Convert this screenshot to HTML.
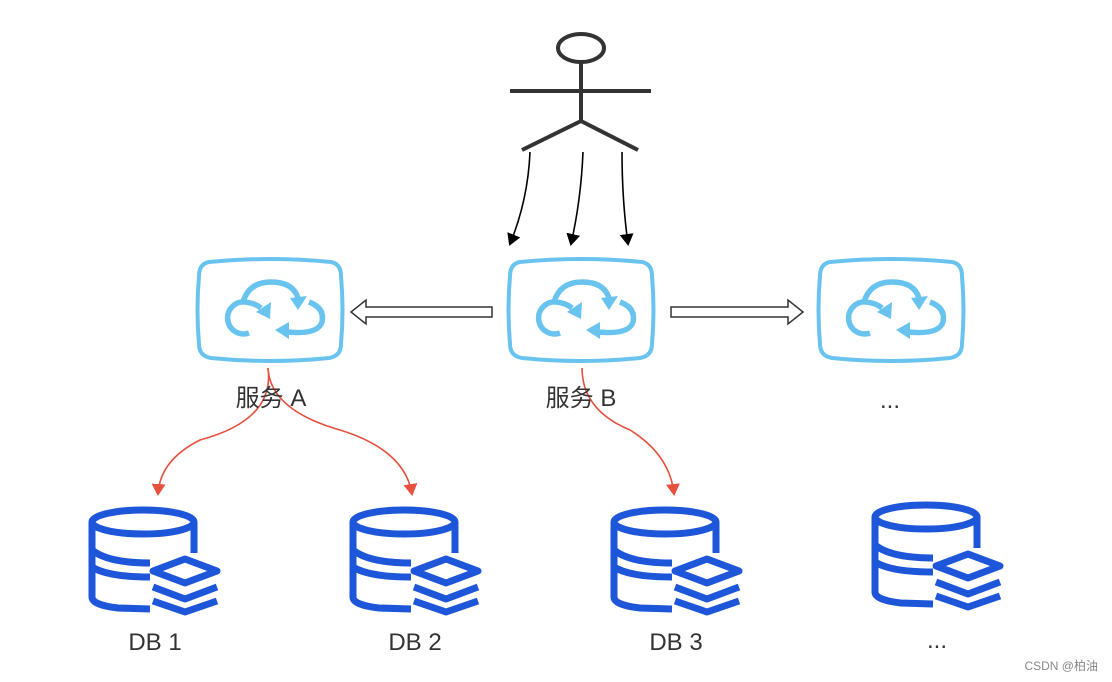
<!DOCTYPE html>
<html><head><meta charset="utf-8"><style>
body{margin:0;background:#fff;}
svg{display:block}
text{font-family:"Liberation Sans","Noto Sans CJK SC",sans-serif;fill:#333;}
</style></head><body>
<svg width="1112" height="682" viewBox="0 0 1112 682" xmlns="http://www.w3.org/2000/svg">
<defs>
<g id="cloud">
<path d="M10,4 Q71,-2 132,4 Q142,6 142,18 Q145,52 142,86 Q142,98 130,100 Q71,106 12,100 Q0,98 0,86 Q-3,52 0,18 Q0,6 10,4 Z" fill="none" stroke="#69c3ef" stroke-width="4"/>
<g fill="none" stroke="#69c3ef" stroke-width="5.5">
<path d="M50,75 A16,16 0 1 1 46,44 Q56,45 62,50"/>
<path d="M44,44 Q50,24 72,24 Q94,24 99,40"/>
<path d="M110,44 Q126,50 123,64 Q119,77 88,74"/>
</g>
<g fill="#69c3ef">
<polygon points="57,54 72,44 71,61"/>
<polygon points="91,40 108,38 99,52"/>
<polygon points="90,64 76,72 90,81"/>
</g>
</g>
<g id="db">
<g fill="none" stroke="#1d56d8" stroke-width="7" stroke-linejoin="round">
<ellipse cx="55" cy="17" rx="51" ry="12"/>
<path d="M4,17 V92 Q4,100 30,103 L62,104"/>
<path d="M106,17 V48"/>
<path d="M4,45 Q20,58 62,58"/>
<path d="M4,62 Q20,72 62,72"/>
<polygon points="65,66 97,54 129,66 97,78"/>
<polyline points="65,82 97,94 129,82"/>
<polyline points="65,96 97,107 129,96"/>
</g>
</g>
<marker id="ab" markerWidth="12" markerHeight="14" refX="10" refY="7" orient="auto" markerUnits="userSpaceOnUse"><path d="M0,0 L12,7 L0,14 Z" fill="#000"/></marker>
<marker id="ar" markerWidth="12" markerHeight="14" refX="10" refY="7" orient="auto" markerUnits="userSpaceOnUse"><path d="M0,0 L12,7 L0,14 Z" fill="#e5503f"/></marker>
</defs>

<g stroke="#333" stroke-width="4" fill="none">
<ellipse cx="581" cy="48" rx="23" ry="14"/>
<line x1="581" y1="62" x2="581" y2="121"/>
<line x1="510" y1="91" x2="651" y2="91"/>
<line x1="581" y1="121" x2="522" y2="150"/>
<line x1="581" y1="121" x2="638" y2="150"/>
</g>
<g stroke="#000" stroke-width="1.6" fill="none">
<path d="M530,152 Q528,200 510,244" marker-end="url(#ab)"/>
<path d="M583,152 Q581,200 571,244" marker-end="url(#ab)"/>
<path d="M622,152 Q622,200 628,244" marker-end="url(#ab)"/>
</g>

<use href="#cloud" x="199" y="258"/>
<use href="#cloud" x="510" y="258"/>
<use href="#cloud" x="820" y="258"/>

<polygon points="492,307 366,307 366,300 351,312 366,324 366,317 492,317" fill="#fff" stroke="#333" stroke-width="1.5"/>
<polygon points="671,307 788,307 788,300 803,312 788,324 788,317 671,317" fill="#fff" stroke="#333" stroke-width="1.5"/>

<g stroke="#e5503f" stroke-width="1.6" fill="none">
<path d="M268,368 Q275,420 200,440 Q160,460 158,494" marker-end="url(#ar)"/>
<path d="M268,368 Q270,410 340,430 Q405,450 412,494" marker-end="url(#ar)"/>
<path d="M582,368 Q582,410 630,430 Q670,455 674,494" marker-end="url(#ar)"/>
</g>

<use href="#db" x="88" y="505"/>
<use href="#db" x="349" y="505"/>
<use href="#db" x="610" y="505"/>
<use href="#db" x="871" y="500"/>

<g font-size="24" text-anchor="middle">
<text x="271" y="406">服务 A</text>
<text x="581" y="406">服务 B</text>
<text x="890" y="408">...</text>
<text x="155" y="650">DB 1</text>
<text x="415" y="650">DB 2</text>
<text x="676" y="650">DB 3</text>
<text x="937" y="648">...</text>
</g>
<text x="1098" y="670" font-size="12" text-anchor="end" style="fill:#888">CSDN @柏油</text>
</svg>
</body></html>
